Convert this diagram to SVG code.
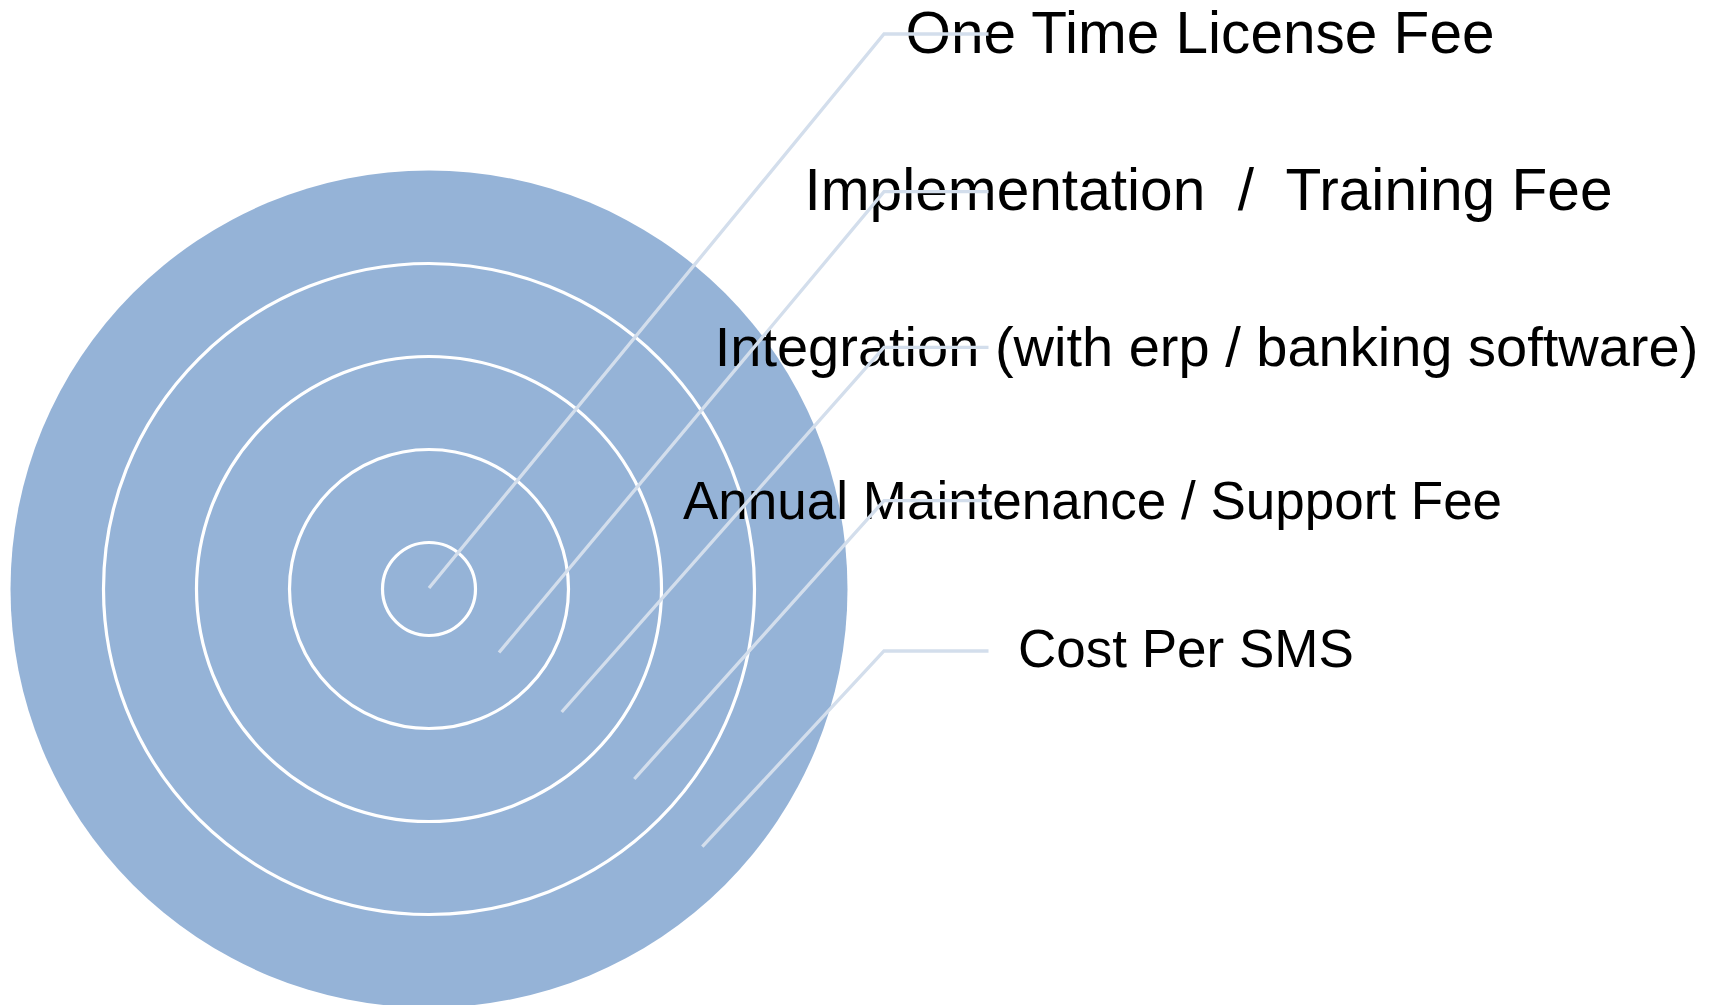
<svg xmlns="http://www.w3.org/2000/svg" width="1717" height="1005" viewBox="0 0 1717 1005">
<style>
.bg{fill:#ffffff}
.disc{fill:#95B3D7}
.ring{fill:none;stroke:#ffffff;stroke-width:3.2}
.lbl{font-family:"Liberation Sans",Arial,sans-serif;fill:#000000}
.conn{fill:none;stroke:#D3DEEC;stroke-width:3.3;stroke-linecap:butt;stroke-linejoin:miter}
</style>
<rect class="bg" x="0" y="0" width="1717" height="1005"/>
<g id="ring-cost-per-sms"><circle class="disc" cx="429" cy="589" r="418.5"/></g>
<g id="ring-annual-maintenance"><circle class="ring" cx="429" cy="589" r="325.5"/></g>
<g id="ring-integration"><circle class="ring" cx="429" cy="589" r="232.5"/></g>
<g id="ring-implementation"><circle class="ring" cx="429" cy="589" r="139.5"/></g>
<g id="ring-one-time-license"><circle class="ring" cx="429" cy="589" r="46.5"/></g>
<g id="label-one-time-license"><text class="lbl" x="905.5" y="52.7" font-size="58.3" textLength="589" lengthAdjust="spacingAndGlyphs">One Time License Fee</text></g>
<g id="label-implementation"><text class="lbl" x="804.5" y="210" font-size="58.3" xml:space="preserve" textLength="808" lengthAdjust="spacingAndGlyphs">Implementation  /  Training Fee</text></g>
<g id="label-integration"><text class="lbl" x="714.7" y="366" font-size="56">Integration (with erp / banking software)</text></g>
<g id="label-annual-maintenance"><text class="lbl" x="683" y="519.3" font-size="53">Annual Maintenance / Support Fee</text></g>
<g id="label-cost-per-sms"><text class="lbl" x="1018" y="667.3" font-size="53">Cost Per SMS</text></g>
<g id="connectors">
<polyline class="conn" points="429,588 884,34 988.5,34"/>
<polyline class="conn" points="499,652.5 884,191.7 988.5,191.7"/>
<polyline class="conn" points="561.7,712 884,347.3 988.5,347.3"/>
<polyline class="conn" points="634.3,779 884,500.7 988.5,500.7"/>
<polyline class="conn" points="702.3,846.7 884,651 988.5,651"/>
</g>
</svg>
